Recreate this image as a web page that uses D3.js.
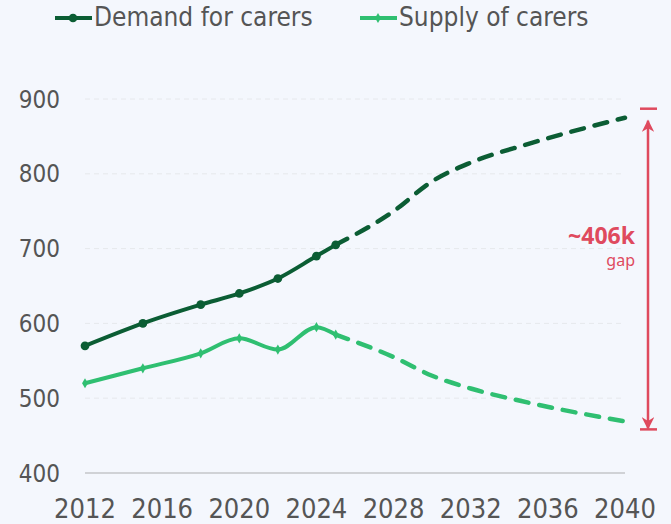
<!DOCTYPE html>
<html>
<head>
<meta charset="utf-8">
<script src="https://cdn.jsdelivr.net/npm/d3@7"></script>
<style>
  html, body { margin: 0; padding: 0; background: #f4f7fd; }
  #chart svg { display: block; }
  .lbl { font-family: "DejaVu Sans Condensed", "DejaVu Sans", sans-serif; font-stretch: condensed; fill: #555; }
  .gap { font-family: "Noto Sans", "Open Sans", sans-serif; fill: #df4a5e; }
</style>
</head>
<body>
<div id="chart"></div>
<script>
// actual values (thousands)
var actualYears = [2012, 2015, 2018, 2020, 2022, 2024, 2025]
var demandActual = [570, 600, 625, 640, 660, 690, 705]
var supplyActual = [520, 540, 560, 580, 565, 595, 585]

// projections
var projYears = [2025, 2028, 2030, 2032, 2035, 2040]
var demandProj = [705, 750, 790, 815, 840, 875]
var supplyProj = [585, 555, 530, 513, 494, 469]

var xTicks = [2012, 2016, 2020, 2024, 2028, 2032, 2036, 2040]
var yTicks = [400, 500, 600, 700, 800, 900]
var seriesNames = ['Demand for carers', 'Supply of carers']
var gapLabel = '~406k'

var width = 671,
    height = 524,
    demandColor = '#0b5d34',
    supplyColor = '#2fbf71',
    red = '#df4a5e'

var svg = d3.select('#chart').append('svg')
    .attr('width', width)
    .attr('height', height)

var x = d3.scaleLinear().domain([2012, 2040]).range([85, 625])
var y = d3.scaleLinear().domain([400, 900]).range([473, 99])

// grid
svg.append('g').selectAll('line')
    .data(yTicks)
    .enter().append('line')
    .attr('x1', x(2012)).attr('x2', x(2040))
    .attr('y1', d => y(d)).attr('y2', d => y(d))
    .style('stroke', d => d == 400 ? '#d0d2d6' : '#e6e8ec')
    .style('stroke-width', d => d == 400 ? 2 : 1)
    .style('stroke-dasharray', d => d == 400 ? null : '5,4')

// y labels
svg.append('g').selectAll('text')
    .data(yTicks)
    .enter().append('text')
    .attr('class', 'lbl')
    .attr('x', 60)
    .attr('y', d => y(d))
    .attr('dy', '0.36em')
    .attr('text-anchor', 'end')
    .style('font-size', '24px')
    .text(d => d)

// x labels
svg.append('g').selectAll('text')
    .data(xTicks)
    .enter().append('text')
    .attr('class', 'lbl')
    .attr('x', d => x(d))
    .attr('y', 518)
    .attr('text-anchor', 'middle')
    .style('font-size', '27px')
    .text(d => d)

function pts(years, vals) {
    return years.map((yr, i) => ({ year: yr, value: vals[i] }))
}

var line = d3.line()
    .x(d => x(d.year))
    .y(d => y(d.value))
    .curve(d3.curveMonotoneX)

var series = [
    { color: demandColor, actual: pts(actualYears, demandActual), proj: pts(projYears, demandProj), symbol: d3.symbolCircle, size: 60 },
    { color: supplyColor, actual: pts(actualYears, supplyActual), proj: pts(projYears, supplyProj), symbol: d3.symbolDiamond, size: 30 }
]

series.forEach(function (s) {
    svg.append('path')
        .attr('d', line(s.proj))
        .style('fill', 'none')
        .style('stroke', s.color)
        .style('stroke-width', 4.5)
        .style('stroke-dasharray', '13,11')
        .style('stroke-linecap', 'round')

    svg.append('path')
        .attr('d', line(s.actual))
        .style('fill', 'none')
        .style('stroke', s.color)
        .style('stroke-width', 4)
        .style('stroke-linejoin', 'round')

    svg.append('g').selectAll('path')
        .data(s.actual)
        .enter().append('path')
        .attr('transform', d => `translate(${x(d.year)}, ${y(d.value)})`)
        .attr('d', d3.symbol().type(s.symbol).size(s.size))
        .style('fill', s.color)
})

// gap arrow
var topY = y(demandProj[demandProj.length - 1]) - 9,
    botY = y(supplyProj[supplyProj.length - 1]) + 8,
    ax = 648

var defs = svg.append('defs')
defs.append('marker')
    .attr('id', 'head')
    .attr('viewBox', '0 0 10 10')
    .attr('refX', 9).attr('refY', 5)
    .attr('markerWidth', 5).attr('markerHeight', 5)
    .attr('orient', 'auto-start-reverse')
    .append('path')
    .attr('d', 'M0,0 L10,5 L0,10 L3,5 Z')
    .style('fill', red)

svg.append('line')
    .attr('x1', ax).attr('x2', ax)
    .attr('y1', topY + 12).attr('y2', botY - 1)
    .style('stroke', red)
    .style('stroke-width', 2.5)
    .attr('marker-start', 'url(#head)')
    .attr('marker-end', 'url(#head)')

svg.selectAll('.cap')
    .data([topY, botY])
    .enter().append('line')
    .attr('class', 'cap')
    .attr('x1', ax - 8).attr('x2', ax + 9)
    .attr('y1', d => d).attr('y2', d => d)
    .style('stroke', red)
    .style('stroke-width', 2.5)

svg.append('text')
    .attr('class', 'gap')
    .attr('x', 635).attr('y', 244)
    .attr('text-anchor', 'end')
    .style('font-size', '23px')
    .style('font-weight', 'bold')
    .text(gapLabel)

svg.append('text')
    .attr('class', 'gap')
    .attr('x', 635).attr('y', 266)
    .attr('text-anchor', 'end')
    .style('font-size', '16px')
    .text('gap')

// legend
var legendX = [55, 360]
var legend = svg.append('g').selectAll('g')
    .data(series)
    .enter().append('g')
    .attr('transform', (d, i) => `translate(${legendX[i]}, 18)`)

legend.append('line')
    .attr('x1', 0).attr('x2', 37)
    .style('stroke', d => d.color)
    .style('stroke-width', 4)

legend.append('path')
    .attr('transform', 'translate(18, 0)')
    .attr('d', d => d3.symbol().type(d.symbol).size(d.size)())
    .style('fill', d => d.color)

legend.append('text')
    .attr('class', 'lbl')
    .attr('x', 39)
    .attr('y', 8)
    .style('font-size', '26px')
    .text((d, i) => seriesNames[i])
</script>
</body>
</html>
